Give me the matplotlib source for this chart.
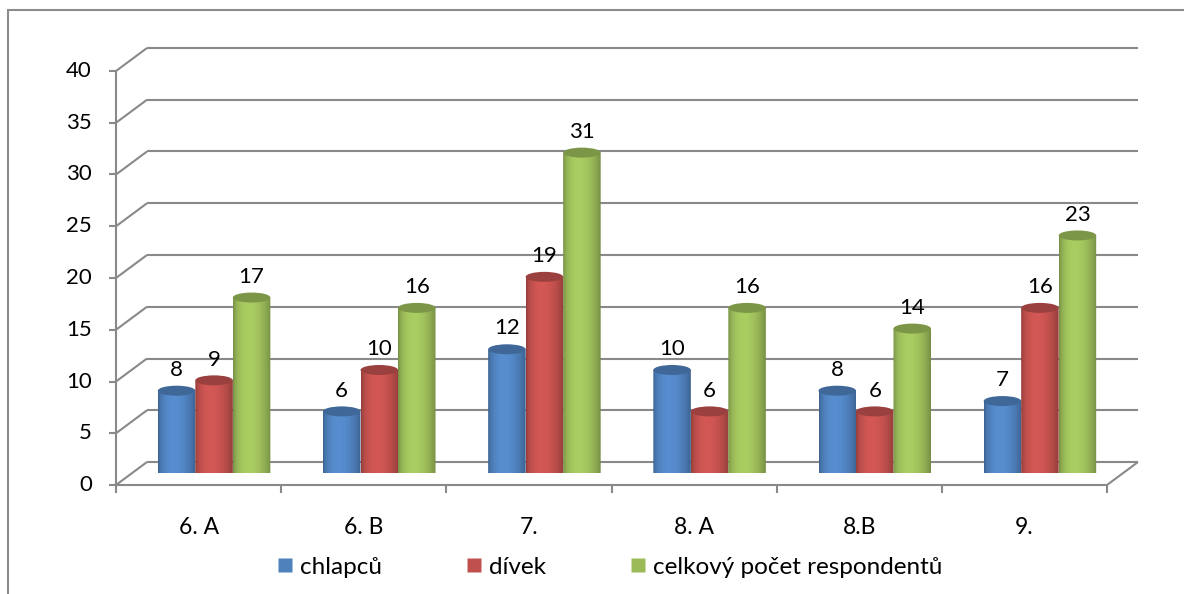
import numpy as np
import matplotlib.pyplot as plt
import matplotlib.colors as mcolors
from matplotlib.patches import Ellipse, PathPatch, Rectangle
from matplotlib.path import Path
from matplotlib.lines import Line2D

plt.rcParams['font.family'] = ['Lato', 'DejaVu Sans']

# data
classes = ['6. A', '6. B', '7.', '8. A', '8.B', '9.']
chlapcu = [8, 6, 12, 10, 8, 7]
divek = [9, 10, 19, 6, 6, 16]
celkem = [17, 16, 31, 16, 14, 23]
series_names = ['chlapců', 'dívek', 'celkový počet respondentů']
series_colors = ['#4F81BD', '#C0504D', '#9BBB59']

W, H = 1184, 594
fig = plt.figure(figsize=(W / 100, H / 100), dpi=100)
# axes = middle plane of the 3d box, where the cylinders stand
ax = fig.add_axes([131.5 / W, 120.5 / H, 991 / W, 414 / H])
n = len(classes)
ymax = 40
ax.axis('off')

PXX = n / 991          # data units per pixel, x
PXY = ymax / 414       # data units per pixel, y
DX = 31 * PXX          # depth of the box
DY = 23 * PXY
grid_c = '#898989'
lw = 1.5
fs = 16


def front(x, y):
    return x - DX / 2, y - DY / 2


def back(x, y):
    return x + DX / 2, y + DY / 2


def seg(p, q, **kw):
    ax.plot([p[0], q[0]], [p[1], q[1]], color=grid_c, lw=lw,
            solid_capstyle='butt', clip_on=False, **kw)


# back wall gridlines + side wall diagonals + value ticks
for v in range(0, ymax + 1, 5):
    seg(back(-0.5, v), back(n - 0.5, v), zorder=1)
    seg(front(-0.5, v), back(-0.5, v), zorder=1)
    fx, fy = front(-0.5, v)
    seg((fx - 7 * PXX, fy), (fx, fy), zorder=1)
    ax.text(fx - 24 * PXX, fy, str(v), ha='right', va='center', fontsize=fs)

# front value axis and floor edges
seg(front(-0.5, 0), front(-0.5, ymax), zorder=1)
seg(front(-0.5, 0), front(n - 0.5, 0), zorder=1)
seg(front(n - 0.5, 0), back(n - 0.5, 0), zorder=1)
for i in range(n + 1):
    fx, fy = front(i - 0.5, 0)
    seg((fx, fy), (fx, fy - 8 * PXY), zorder=1)
for i, name in enumerate(classes):
    fx, fy = front(i, 0)
    ax.text(fx, fy - 43 * PXY, name, ha='center', va='center', fontsize=fs + 0.5)

# cylinders
bar_w = 37.5 * PXX
cap_h = 10 * PXY
t = np.linspace(0, 1, 80)
shade = 0.74 + 0.36 * np.sin(np.pi * t ** 0.8) ** 0.7
theta = np.linspace(np.pi, 2 * np.pi, 40)
for s, (vals, col) in enumerate(zip([chlapcu, divek, celkem], series_colors)):
    base = np.array(mcolors.to_rgb(col))
    grad = np.clip(base[None, :] * shade[:, None], 0, 1)[None, :, :]
    for i, v in enumerate(vals):
        xc = i + (s - 1) * bar_w
        x0, x1 = xc - bar_w / 2, xc + bar_w / 2
        bx = xc + bar_w / 2 * np.cos(theta)
        by = cap_h / 2 * np.sin(theta)
        verts = [(x0, v)] + list(zip(bx, by)) + [(x1, v), (x0, v)]
        body = PathPatch(Path(verts), facecolor='none', edgecolor='none')
        ax.add_patch(body)
        im = ax.imshow(grad, extent=[x0, x1, -cap_h / 2, v], aspect='auto',
                       interpolation='bilinear', zorder=3 + s * 0.1)
        im.set_clip_path(body)
        ax.add_patch(Ellipse((xc, v), bar_w, cap_h, facecolor=base * 0.8,
                             edgecolor='none', zorder=3.05 + s * 0.1))
        ax.annotate(str(v), (xc, v), xytext=(0, 15), textcoords='offset points',
                    ha='center', va='center', fontsize=fs)

ax.set_xlim(-0.5, n - 0.5)
ax.set_ylim(0, ymax)

# legend
handles = [Line2D([], [], marker='s', linestyle='none', markersize=10,
                  markerfacecolor=c, markeredgecolor='none') for c in series_colors]
fig.legend(handles, series_names, loc='center', bbox_to_anchor=(610 / W, 1 - 567 / H),
           ncol=3, frameon=False, fontsize=17.5, handlelength=0.6,
           handletextpad=0.3, columnspacing=3.5)

# chart border
fig.add_artist(Rectangle((8 / W, -0.5), 2, 1.5 - 10 / H, transform=fig.transFigure,
                         fill=False, edgecolor='#8c8c8c', lw=1.5))

fig.savefig('out.png', dpi=100)
